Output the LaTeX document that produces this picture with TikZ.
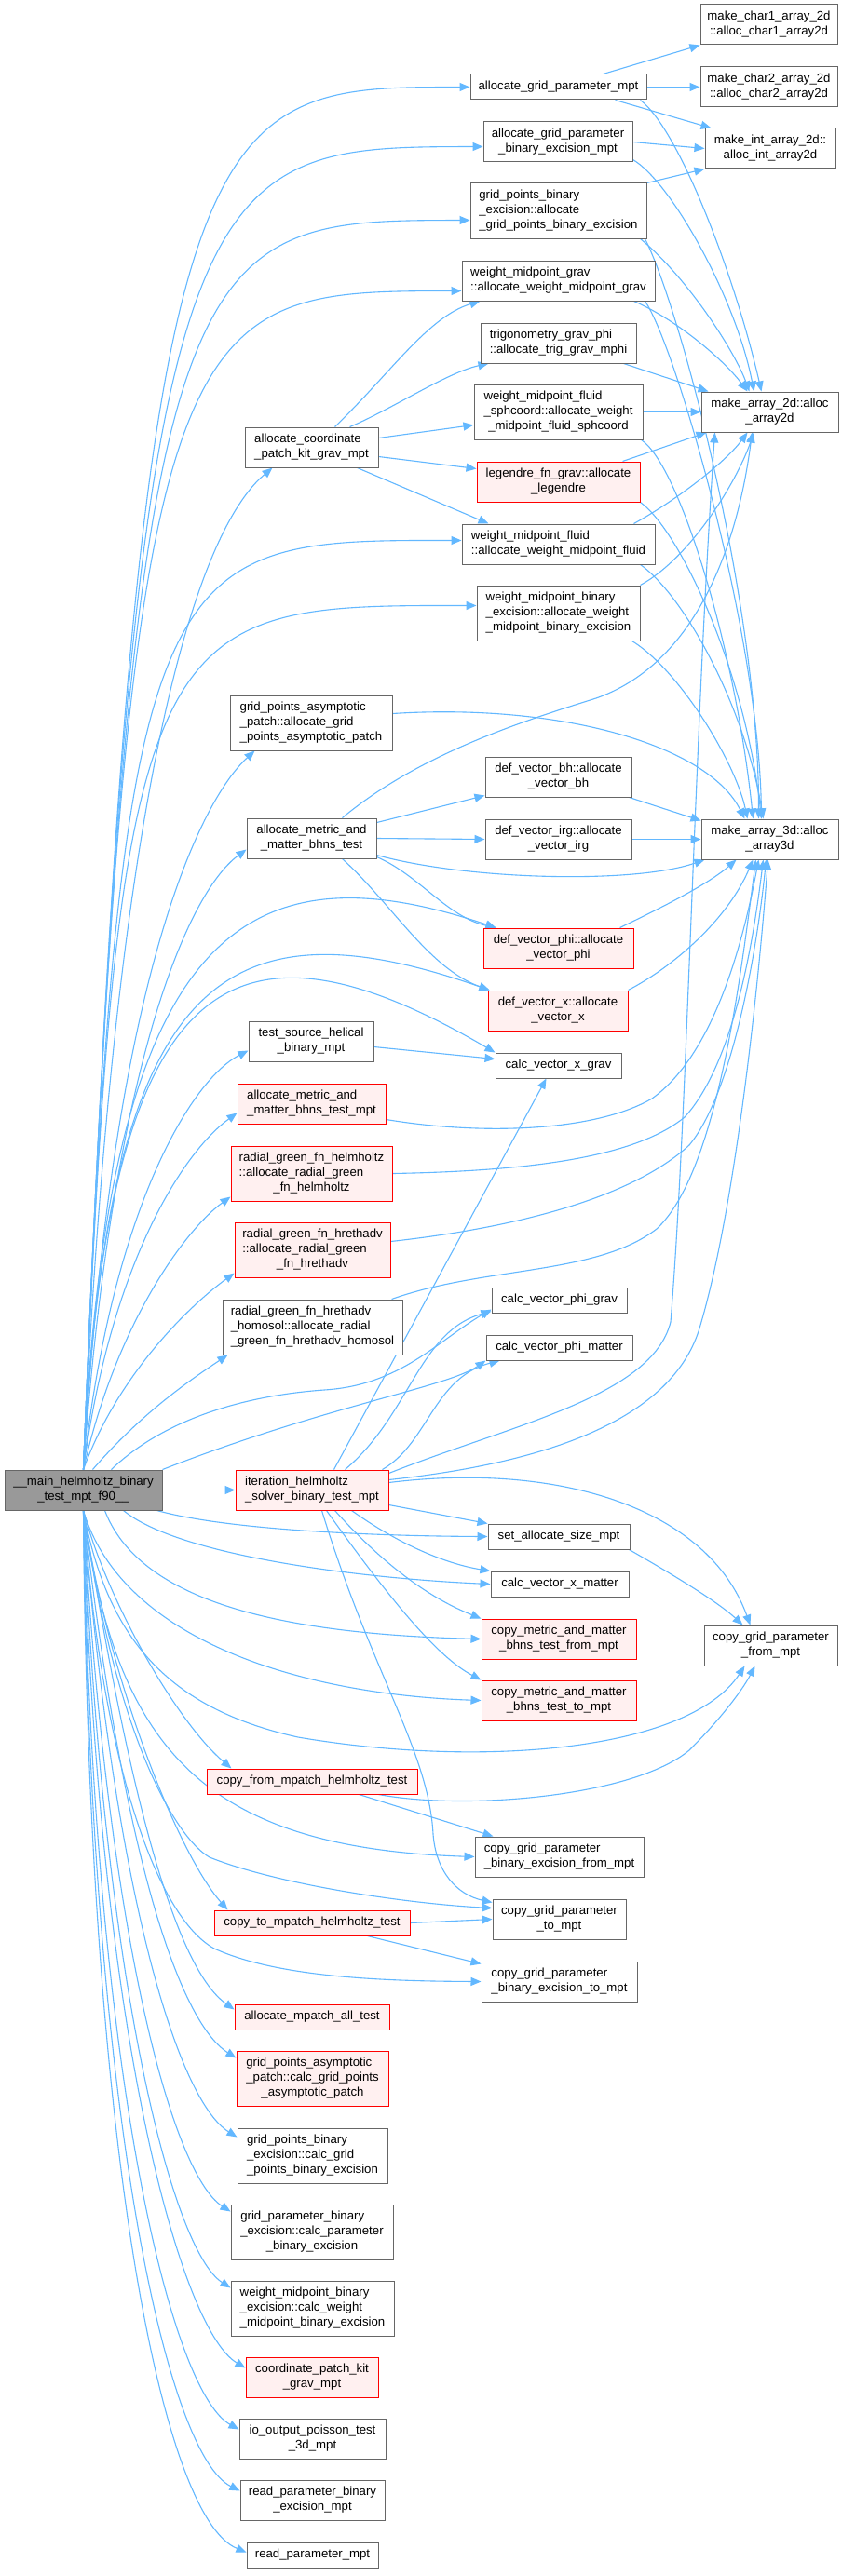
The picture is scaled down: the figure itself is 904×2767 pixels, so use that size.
\documentclass[tikz,border=0pt]{standalone}
\usepackage{fontspec}
\setmainfont{Liberation Sans}
\usetikzlibrary{arrows.meta}
\definecolor{edgec}{HTML}{63B8FF}
\definecolor{gborder}{HTML}{666666}
\definecolor{redfill}{HTML}{FFF0F0}
\definecolor{mainfill}{HTML}{999999}
\pgfdeclarelayer{edgelayer}
\pgfdeclarelayer{bglayer}
\pgfsetlayers{bglayer,edgelayer,main}
\newcommand\twol[2]{\begin{tabular}{@{}l@{}}#1\\\multicolumn{1}{@{}c@{}}{#2}\end{tabular}}
\newcommand\threel[3]{\begin{tabular}{@{}l@{}}#1\\#2\\\multicolumn{1}{@{}c@{}}{#3}\end{tabular}}
\newcommand\gbox[7]{\node[#1, minimum width={(#5-#3)*1pt}, minimum height={(#6-#4)*1pt}] (#2) at ({(#3+#5)/2},{(#4+#6)/2}) {#7};}
\tikzset{
 nb/.style={draw=gborder, fill=white, line width=1pt, inner sep=2pt, font=\fontsize{13.2}{16}\selectfont},
 rb/.style={nb, draw=red, fill=redfill},
 mb/.style={nb, fill=mainfill},
 call/.style={draw=edgec, line width=1.1pt, -{Triangle[length=11pt,width=9pt]}},
}
\begin{document}
\begin{tikzpicture}[x=1pt,y=-1pt]
\begin{pgfonlayer}{bglayer}\fill[white] (0,0) rectangle (904,2767);\end{pgfonlayer}
\useasboundingbox (0,0) rectangle (904,2767);
% nodes
\gbox{nb}{mc1}{752}{5}{899}{48}{\twol{make\_char1\_array\_2d}{::alloc\_char1\_array2d}}
\gbox{nb}{mc2}{752}{72}{899}{115}{\twol{make\_char2\_array\_2d}{::alloc\_char2\_array2d}}
\gbox{nb}{mint}{757}{138}{897}{181}{\twol{make\_int\_array\_2d::}{alloc\_int\_array2d}}
\gbox{nb}{ma2}{753}{421}{900}{464}{\twol{make\_array\_2d::alloc}{\_array2d}}
\gbox{nb}{ma3}{753}{880}{900}{923}{\twol{make\_array\_3d::alloc}{\_array3d}}
\gbox{nb}{agp}{505}{80}{694}{107}{allocate\_grid\_parameter\_mpt}
\gbox{nb}{agpbe}{519}{131}{679}{174}{\twol{allocate\_grid\_parameter}{\_binary\_excision\_mpt}}
\gbox{nb}{gpbea}{505}{197}{694}{256}{\threel{grid\_points\_binary}{\_excision::allocate}{\_grid\_points\_binary\_excision}}
\gbox{nb}{wmg}{496}{280}{703}{323}{\twol{weight\_midpoint\_grav}{::allocate\_weight\_midpoint\_grav}}
\gbox{nb}{trig}{516}{347}{683}{390}{\twol{trigonometry\_grav\_phi}{::allocate\_trig\_grav\_mphi}}
\gbox{nb}{wmfs}{509}{413}{690}{472}{\threel{weight\_midpoint\_fluid}{\_sphcoord::allocate\_weight}{\_midpoint\_fluid\_sphcoord}}
\gbox{nb}{acp}{263}{459}{406}{502}{\twol{allocate\_coordinate}{\_patch\_kit\_grav\_mpt}}
\gbox{rb}{leg}{512}{496}{687}{539}{\twol{legendre\_fn\_grav::allocate}{\_legendre}}
\gbox{nb}{wmf}{496}{563}{703}{606}{\twol{weight\_midpoint\_fluid}{::allocate\_weight\_midpoint\_fluid}}
\gbox{nb}{wmbea}{512}{629}{687}{688}{\threel{weight\_midpoint\_binary}{\_excision::allocate\_weight}{\_midpoint\_binary\_excision}}
\gbox{nb}{gpapa}{247}{747}{421}{806}{\threel{grid\_points\_asymptotic}{\_patch::allocate\_grid}{\_points\_asymptotic\_patch}}
\gbox{nb}{dvbh}{521}{813}{678}{856}{\twol{def\_vector\_bh::allocate}{\_vector\_bh}}
\gbox{nb}{amm}{265}{879}{404}{922}{\twol{allocate\_metric\_and}{\_matter\_bhns\_test}}
\gbox{nb}{dvirg}{521}{880}{678}{923}{\twol{def\_vector\_irg::allocate}{\_vector\_irg}}
\gbox{rb}{dvphi}{519}{997}{680}{1040}{\twol{def\_vector\_phi::allocate}{\_vector\_phi}}
\gbox{rb}{dvx}{524}{1064}{674}{1107}{\twol{def\_vector\_x::allocate}{\_vector\_x}}
\gbox{nb}{tsh}{267}{1097}{401}{1140}{\twol{test\_source\_helical}{\_binary\_mpt}}
\gbox{nb}{cvxg}{532}{1131}{667}{1158}{calc\_vector\_x\_grav}
\gbox{rb}{ammmpt}{255}{1164}{414}{1207}{\twol{allocate\_metric\_and}{\_matter\_bhns\_test\_mpt}}
\gbox{rb}{rgh}{248}{1231}{421}{1290}{\threel{radial\_green\_fn\_helmholtz}{::allocate\_radial\_green}{\_fn\_helmholtz}}
\gbox{rb}{rgha}{252}{1313}{419}{1372}{\threel{radial\_green\_fn\_hrethadv}{::allocate\_radial\_green}{\_fn\_hrethadv}}
\gbox{nb}{rghh}{239}{1396}{432}{1455}{\threel{radial\_green\_fn\_hrethadv}{\_homosol::allocate\_radial}{\_green\_fn\_hrethadv\_homosol}}
\gbox{nb}{cvpg}{528}{1383}{673}{1410}{calc\_vector\_phi\_grav}
\gbox{nb}{cvpm}{522}{1434}{679}{1461}{calc\_vector\_phi\_matter}
\gbox{mb}{mainf}{5}{1579}{174}{1622}{\twol{\_\_main\_helmholtz\_binary}{\_test\_mpt\_f90\_\_}}
\gbox{rb}{iter}{253}{1579}{417}{1622}{\twol{iteration\_helmholtz}{\_solver\_binary\_test\_mpt}}
\gbox{nb}{sas}{524}{1637}{676}{1664}{set\_allocate\_size\_mpt}
\gbox{nb}{cvxm}{527}{1688}{675}{1715}{calc\_vector\_x\_matter}
\gbox{rb}{cmfrom}{517}{1739}{683}{1782}{\twol{copy\_metric\_and\_matter}{\_bhns\_test\_from\_mpt}}
\gbox{nb}{cgpfrom}{756}{1746}{899}{1789}{\twol{copy\_grid\_parameter}{\_from\_mpt}}
\gbox{rb}{cmto}{517}{1805}{683}{1848}{\twol{copy\_metric\_and\_matter}{\_bhns\_test\_to\_mpt}}
\gbox{rb}{cfm}{222}{1900}{448}{1927}{copy\_from\_mpatch\_helmholtz\_test}
\gbox{nb}{cgpbefrom}{510}{1973}{691}{2016}{\twol{copy\_grid\_parameter}{\_binary\_excision\_from\_mpt}}
\gbox{nb}{cgpto}{529}{2040}{672}{2083}{\twol{copy\_grid\_parameter}{\_to\_mpt}}
\gbox{rb}{ctm}{230}{2052}{440}{2079}{copy\_to\_mpatch\_helmholtz\_test}
\gbox{nb}{cgpbeto}{517}{2107}{684}{2150}{\twol{copy\_grid\_parameter}{\_binary\_excision\_to\_mpt}}
\gbox{rb}{amat}{252}{2153}{418}{2180}{allocate\_mpatch\_all\_test}
\gbox{rb}{gpapc}{254}{2203}{417}{2262}{\threel{grid\_points\_asymptotic}{\_patch::calc\_grid\_points}{\_asymptotic\_patch}}
\gbox{nb}{gpbec}{255}{2286}{416}{2345}{\threel{grid\_points\_binary}{\_excision::calc\_grid}{\_points\_binary\_excision}}
\gbox{nb}{gpbcp}{248}{2368}{422}{2427}{\threel{grid\_parameter\_binary}{\_excision::calc\_parameter}{\_binary\_excision}}
\gbox{nb}{wmbec}{248}{2450}{423}{2509}{\threel{weight\_midpoint\_binary}{\_excision::calc\_weight}{\_midpoint\_binary\_excision}}
\gbox{rb}{cpk}{264}{2532}{406}{2575}{\twol{coordinate\_patch\_kit}{\_grav\_mpt}}
\gbox{nb}{io}{257}{2598}{414}{2641}{\twol{io\_output\_poisson\_test}{\_3d\_mpt}}
\gbox{nb}{rpbe}{258}{2664}{413}{2707}{\twol{read\_parameter\_binary}{\_excision\_mpt}}
\gbox{nb}{rpm}{265}{2731}{406}{2758}{read\_parameter\_mpt}
\begin{pgfonlayer}{edgelayer}
% main fan upward
\draw[call] (mainf.north) .. controls (150,93.5) and (210,93.5) .. (agp.west);
\draw[call] (mainf.north) .. controls (147,158) and (204,158) .. ([yshift=-5pt]agpbe.west);
\draw[call] (mainf.north) .. controls (144,237) and (197,237) .. ([yshift=-10pt]gpbea.west);
\draw[call] (mainf.north) .. controls (140,313) and (190,313) .. ([yshift=-11pt]wmg.west);
\draw[call] (mainf.north) .. controls (120,900) and (200,580) .. ([xshift=30pt]acp.south west);
\draw[call] (mainf.north) .. controls (130,580) and (170,580) .. ([yshift=4pt]wmf.west);
\draw[call] (mainf.north) .. controls (127,650) and (164,650) .. ([yshift=8pt]wmbea.west);
\draw[call] (mainf.north) .. controls (120,1050) and (215,860) .. ([xshift=27pt]gpapa.south west);
\draw[call] (mainf.north) .. controls (120,1150) and (200,960) .. ([yshift=-12pt]amm.west);
\draw[call] (mainf.north) .. controls (115,1000) and (260,905) .. ([xshift=14pt]dvphi.north west);
\draw[call] (mainf.north) .. controls (115,1060) and (230,960) .. ([xshift=2pt]dvx.north west);
\draw[call] (mainf.north) .. controls (115,1050) and (240,960) .. (cvxg.north west);
\draw[call] (mainf.north) .. controls (120,1300) and (205,1160) .. ([yshift=-10pt]tsh.west);
\draw[call] (mainf.north) .. controls (120,1350) and (200,1235) .. ([yshift=-10pt]ammmpt.west);
\draw[call] (mainf.north) .. controls (125,1420) and (200,1320) .. ([yshift=5pt]rgh.south west);
\draw[call] (mainf.north) .. controls (125,1480) and (200,1405) .. ([yshift=5pt]rgha.south west);
\draw[call] ([xshift=10pt]mainf.north) .. controls (150,1520) and (200,1485) .. ([xshift=6pt]rghh.south west);
\draw[call] ([xshift=30pt]mainf.north) .. controls (170,1530) and (250,1500) .. (348,1493) .. controls (430,1488) and (470,1440) .. ([yshift=4pt]cvpg.south west);
\draw[call] (mainf.north east) .. controls (350,1510) and (480,1490) .. (cvpm.south west);
\draw[call] (mainf) -- (iter);
% main fan downward
\draw[call] ([xshift=-6pt]mainf.south east) .. controls (250,1645) and (420,1650) .. (sas.west);
\draw[call] ([xshift=128pt]mainf.south west) .. controls (190,1670) and (380,1695) .. (cvxm.west);
\draw[call] ([xshift=108pt]mainf.south west) .. controls (150,1720) and (300,1755) .. (cmfrom.west);
\draw[call] (mainf.south) .. controls (130,1760) and (320,1820) .. (cmto.west);
\draw[call] (mainf.south) .. controls (115,1760) and (180,1835) .. (320,1866) .. controls (520,1900) and (740,1880) .. ([xshift=44pt]cgpfrom.south west);
\draw[call] (mainf.south) .. controls (115,1720) and (190,1850) .. ([xshift=27pt]cfm.north west);
\draw[call] (mainf.south) .. controls (125,1880) and (220,1985) .. (cgpbefrom.west);
\draw[call] (mainf.south) .. controls (125,1870) and (190,1975) .. (225,1995) .. controls (300,2025) and (440,2045) .. ([yshift=12pt]cgpto.west);
\draw[call] (mainf.south) .. controls (115,1800) and (190,1990) .. ([xshift=15pt]ctm.north west);
\draw[call] (mainf.south) .. controls (110,1900) and (170,2060) .. (230,2093) .. controls (300,2125) and (420,2128) .. (cgpbeto.west);
\draw[call] (mainf.south) .. controls (140,1940) and (190,2115) .. ([yshift=8pt]amat.west);
\draw[call] (mainf.south) .. controls (130,1980) and (190,2170) .. ([yshift=22pt]gpapc.west);
\draw[call] (mainf.south) .. controls (122,2030) and (190,2255) .. ([yshift=20pt]gpbec.west);
\draw[call] (mainf.south) .. controls (115,2080) and (185,2335) .. ([yshift=22pt]gpbcp.west);
\draw[call] (mainf.south) .. controls (110,2130) and (185,2417) .. ([yshift=22pt]wmbec.west);
\draw[call] (mainf.south) .. controls (105,2190) and (195,2503) .. ([yshift=10pt]cpk.west);
\draw[call] (mainf.south) .. controls (100,2240) and (185,2570) .. ([yshift=10pt]io.west);
\draw[call] (mainf.south) .. controls (97,2280) and (180,2637) .. ([yshift=10pt]rpbe.west);
\draw[call] (mainf.south) .. controls (95,2320) and (175,2705) .. ([yshift=3pt]rpm.west);
% top cluster
\draw[call] ([xshift=-47pt]agp.north east) -- (mc1.south west);
\draw[call] (agp.east) -- (mc2.west);
\draw[call] ([xshift=-34pt]agp.south east) -- ([xshift=7pt]mint.north west);
\draw[call] ([xshift=-7pt]agp.south east) .. controls (730,140) and (790,300) .. ([xshift=65pt]ma2.north west);
\draw[call] (agpbe.east) -- (mint.west);
\draw[call] ([yshift=3pt]agpbe.south east) .. controls (720,195) and (790,320) .. ([xshift=57pt]ma2.north west);
\draw[call] (gpbea.north east) -- (mint.south west);
\draw[call] ([xshift=-7pt]gpbea.south east) .. controls (740,300) and (790,380) .. ([xshift=52pt]ma2.north west);
\draw[call] ([xshift=-2pt]gpbea.south east) .. controls (730,330) and (815,650) .. ([xshift=62pt]ma3.north west);
\draw[call] ([xshift=-23pt]wmg.south east) .. controls (730,345) and (780,390) .. ([xshift=50pt]ma2.north west);
\draw[call] ([xshift=-11pt]wmg.south east) .. controls (725,370) and (815,680) .. ([xshift=65pt]ma3.north west);
\draw[call] ([xshift=-14pt]trig.south east) -- ([xshift=8pt]ma2.north west);
\draw[call] (wmfs.east) -- (ma2.west);
\draw[call] ([xshift=-2pt]wmfs.south east) .. controls (730,500) and (790,700) .. ([xshift=56pt]ma3.north west);
\draw[call] ([xshift=-19pt]leg.north east) -- ([xshift=6pt]ma2.south west);
\draw[call] (leg.south east) .. controls (730,570) and (800,720) .. ([xshift=65pt]ma3.north west);
\draw[call] ([xshift=-23pt]wmf.north east) .. controls (730,535) and (780,495) .. ([xshift=50pt]ma2.south west);
\draw[call] ([xshift=-16pt]wmf.south east) .. controls (735,640) and (800,760) .. ([xshift=67pt]ma3.north west);
\draw[call] (wmbea.north east) .. controls (740,600) and (790,520) .. ([xshift=57pt]ma2.south west);
\draw[call] ([xshift=-9pt]wmbea.south east) .. controls (730,720) and (790,820) .. ([xshift=50pt]ma3.north west);
\draw[call] ([yshift=10pt]gpapa.east) .. controls (600,755) and (760,800) .. ([xshift=47pt]ma3.north west);
% allocate_coordinate_patch_kit
\draw[call] ([xshift=97pt]acp.north west) .. controls (420,400) and (460,340) .. ([xshift=20pt]wmg.south west);
\draw[call] ([xshift=113pt]acp.north west) .. controls (420,440) and (480,400) .. ([xshift=9pt]trig.south west);
\draw[call] ([yshift=10pt]acp.east) -- ([yshift=-14pt]wmfs.west);
\draw[call] ([yshift=-10pt]acp.east) -- ([yshift=14pt]leg.west);
\draw[call] ([xshift=-23pt]acp.south east) -- ([xshift=29pt]wmf.north west);
% allocate_metric_and_matter_bhns_test
\draw[call] ([yshift=17pt]amm.east) -- ([yshift=-20pt]dvbh.west);
\draw[call] (amm.east) -- (dvirg.west);
\draw[call] ([yshift=-18pt]amm.east) .. controls (500,945) and (680,950) .. ([xshift=4pt]ma3.south west);
\draw[call] ([yshift=-20pt]amm.east) .. controls (450,940) and (480,985) .. ([xshift=14pt]dvphi.north west);
\draw[call] ([xshift=-37pt]amm.south east) .. controls (420,970) and (460,1040) .. ([xshift=2pt]dvx.north west);
\draw[call] ([xshift=-37pt]amm.north east) .. controls (450,810) and (560,775) .. (640,750) .. controls (740,715) and (790,600) .. ([xshift=55pt]ma2.south west);
\draw[call] ([xshift=-3pt]dvbh.south east) -- ([yshift=-2pt]ma3.north west);
\draw[call] (dvirg.east) -- (ma3.west);
\draw[call] ([xshift=-15pt]dvphi.north east) .. controls (710,975) and (760,950) .. ([xshift=38pt]ma3.south west);
\draw[call] (dvx.north east) .. controls (720,1040) and (780,990) .. ([xshift=56pt]ma3.south west);
\draw[call] ([yshift=-6pt]tsh.east) -- ([yshift=7pt]cvxg.west);
\draw[call] ([yshift=-17pt]ammmpt.east) .. controls (520,1220) and (640,1215) .. (700,1180) .. controls (770,1130) and (800,1000) .. ([xshift=62pt]ma3.south west);
\draw[call] (rgh.east) .. controls (560,1258) and (680,1245) .. (735,1200) .. controls (790,1140) and (810,1000) .. ([xshift=67pt]ma3.south west);
\draw[call] ([yshift=9pt]rgha.east) .. controls (560,1318) and (680,1285) .. (740,1230) .. controls (790,1170) and (815,1000) .. ([xshift=70pt]ma3.south west);
\draw[call] ([xshift=-12pt]rghh.north east) .. controls (520,1360) and (640,1370) .. (705,1320) .. controls (770,1260) and (795,1050) .. ([xshift=59pt]ma3.south west);
% iteration solver
\draw[call] ([xshift=106pt]iter.north west) -- ([xshift=55pt]cvxg.south west);
\draw[call] ([xshift=118pt]iter.north west) .. controls (440,1520) and (450,1430) .. ([yshift=2pt]cvpg.south west);
\draw[call] ([xshift=-7pt]iter.north east) .. controls (460,1550) and (465,1480) .. ([xshift=15pt]cvpm.south west);
\draw[call] ([yshift=-4pt]iter.north east) .. controls (550,1530) and (700,1500) .. (720,1420) .. controls (738,1200) and (745,800) .. ([xshift=15pt]ma2.south west);
\draw[call] ([yshift=-11pt]iter.north east) .. controls (600,1570) and (720,1520) .. (750,1430) .. controls (790,1300) and (815,1050) .. ([xshift=72pt]ma3.south west);
\draw[call] ([yshift=-14pt]iter.north east) .. controls (600,1570) and (760,1620) .. ([xshift=50pt]cgpfrom.north west);
\draw[call] ([yshift=-16pt]iter.east) -- ([yshift=14pt]sas.west);
\draw[call] ([xshift=-40pt]iter.south east) .. controls (430,1660) and (480,1680) .. (cvxm.north west);
\draw[call] ([xshift=-58pt]iter.south east) .. controls (420,1690) and (470,1720) .. (cmfrom.north west);
\draw[call] ([xshift=-67pt]iter.south east) .. controls (420,1720) and (470,1780) .. (cmto.north west);
\draw[call] ([xshift=-72pt]iter.south east) .. controls (400,1800) and (460,1880) .. (465,1970) .. controls (468,2010) and (490,2035) .. ([yshift=18pt]cgpto.west);
% copy helpers
\draw[call] ([xshift=-1pt]sas.south east) .. controls (720,1690) and (770,1720) .. ([xshift=42pt]cgpfrom.north west);
\draw[call] ([xshift=-42pt]cfm.south east) .. controls (500,1945) and (680,1930) .. (740,1880) .. controls (780,1840) and (800,1810) .. ([xshift=55pt]cgpfrom.south west);
\draw[call] ([xshift=-63pt]cfm.south east) -- ([xshift=20pt]cgpbefrom.north west);
\draw[call] (ctm.east) -- (cgpto.west);
\draw[call] ([xshift=-46pt]ctm.south east) -- ([yshift=-3pt]cgpbeto.north west);
\end{pgfonlayer}
\end{tikzpicture}
\end{document}
